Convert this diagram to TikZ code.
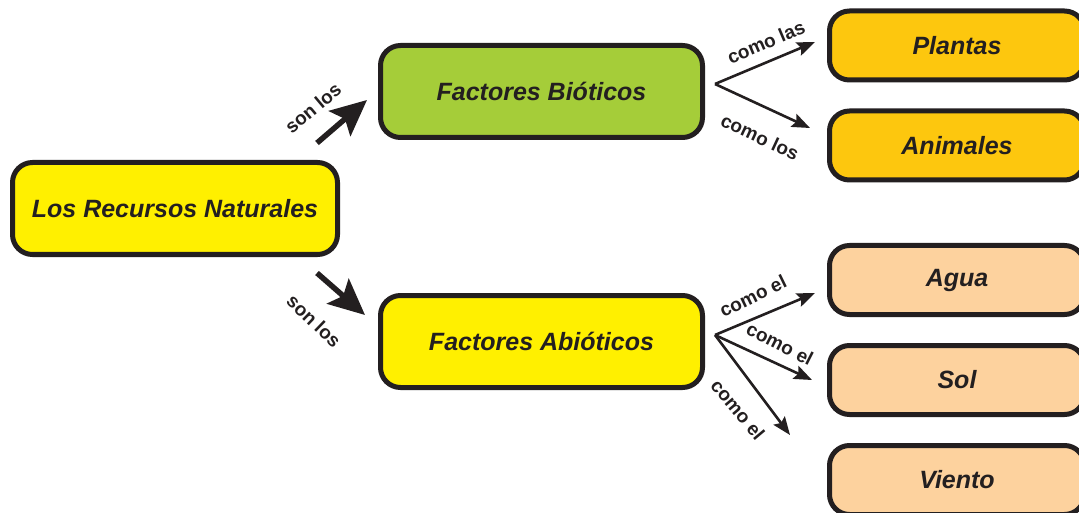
\documentclass[tikz,border=0pt]{standalone}
\usepackage{fontspec}
\setmainfont{Liberation Sans}
\usetikzlibrary{arrows.meta,calc}
\definecolor{ink}{HTML}{231F20}
\definecolor{yel}{HTML}{FFF000}
\definecolor{grn}{HTML}{A5CD39}
\definecolor{org}{HTML}{FDC70E}
\definecolor{pch}{HTML}{FDD29E}
\begin{document}
\begin{tikzpicture}[x=1pt,y=-1pt,
  box/.style={draw=ink,line width=5pt,rounded corners=20pt,
    font=\fontsize{25}{28}\selectfont\bfseries\itshape,text=ink,
    inner sep=0pt,anchor=center},
  mainbox/.style={box,fill=yel,minimum width=325pt,minimum height=92pt},
  midbox/.style={box,minimum width=322pt,minimum height=92pt},
  leafbox/.style={box,minimum width=255pt,minimum height=69pt},
  lab/.style={font=\fontsize{19}{22}\selectfont\bfseries,text=ink,inner sep=0pt},
  big/.style={line width=5.5pt,draw=ink,-{Stealth[length=36pt,width=33pt,inset=7pt]}},
  fan/.style={line width=2.6pt,draw=ink,-{Stealth[length=18pt,width=14pt,inset=3pt]}}]
\useasboundingbox (0,0) rectangle (1079,513);

% boxes
\node[mainbox] (rn) at (175,208.5) {Los Recursos Naturales};
\node[midbox,fill=grn] (bio) at (541.5,91.5) {Factores Bióticos};
\node[midbox,fill=yel] (abio) at (541.5,341.5) {Factores Abióticos};
\node[leafbox,fill=org] (pla) at (957,45.5) {Plantas};
\node[leafbox,fill=org] (ani) at (957,145.5) {Animales};
\node[leafbox,fill=pch] (agu) at (957,280) {Agua};
\node[leafbox,fill=pch] (sol) at (957,380) {Sol};
\node[leafbox,fill=pch] (vie) at (957,480) {Viento};

% connector end points
\coordinate (t1) at (317,143);
\coordinate (h1) at (367,100);
\coordinate (t2) at (317,273);
\coordinate (h2) at (365,315);
\coordinate (ab) at (715,84);
\coordinate (hp) at (815,42);
\coordinate (ha) at (810,128);
\coordinate (aa) at (715,335);
\coordinate (hg) at (815,293);
\coordinate (hs) at (812,380);
\coordinate (hv) at (790,435);

% connectors
\draw[big] (t1) -- (h1);
\draw[big] (t2) -- (h2);
\draw[fan] (ab) -- (hp);
\draw[fan] (ab) -- (ha);
\draw[fan] (aa) -- (hg);
\draw[fan] (aa) -- (hs);
\draw[fan] (aa) -- (hv);

% labels
\node[lab,rotate=40] (l1) at (313,108) {son los};
\node[lab,rotate=-44] (l2) at (314,321) {son los};
\node[lab,rotate=23] (l3) at (766,42) {como las};
\node[lab,rotate=-25] (l4) at (760,137) {como los};
\node[lab,rotate=26] (l5) at (753,296) {como el};
\node[lab,rotate=-27] (l6) at (780,344) {como el};
\node[lab,rotate=-50] (l7) at (738,410) {como el};
\end{tikzpicture}
\end{document}
